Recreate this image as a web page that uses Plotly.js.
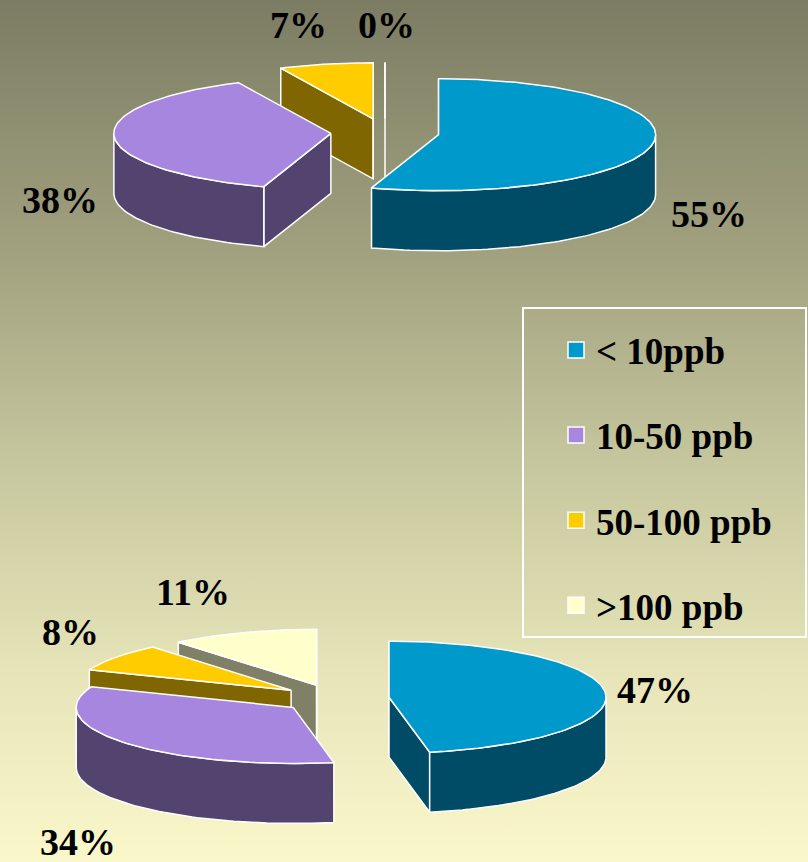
<!DOCTYPE html>
<html>
<head>
<meta charset="utf-8">
<script src="https://cdn.plot.ly/plotly-3.0.1.min.js"></script>
<style>
  html, body { margin: 0; padding: 0; overflow: hidden; }
  body { width: 808px; height: 862px;
         background: linear-gradient(to bottom, #7c7c64 0%, #a2a280 30%, #c8c8a0 55%, #e6e4b8 78%, #faf8cb 100%); }
  #chart { width: 808px; height: 862px; }
</style>
</head>
<body>
<div id="chart"></div>
<script>
// ---- data ----
const categories   = ['< 10ppb', '10-50 ppb', '50-100 ppb', '>100 ppb'];
const topValues    = [55, 38, 7, 0];
const bottomValues = [47, 34, 8, 11];

// ---- styles ----
const topColors  = ['#0099cc', '#a686de', '#ffcc00', '#ffffcc'];
const sideColors = ['#004c66', '#53436f', '#806600', '#808066'];

// ---- geometry of the two 3-D pies (pixel-like axis units) ----
const pies = [
  { values: topValues,    cx: 385, cy: 132.5, rx: 217, ry: 56, depth: 60, pull: 0.25,
    labelPos: [[709, 214], [60, 200], [298, 25], [386, 25]] },
  { values: bottomValues, cx: 335, cy: 698.5, rx: 217, ry: 56, depth: 60, pull: 0.25,
    labelPos: [[655, 690], [78, 842], [70, 632], [193, 592]] }
];

const rad = d => d * Math.PI / 180;
const traces = [];
const annotations = [];

function poly(xs, ys, color) {
  traces.push({
    type: 'scatter', mode: 'lines', x: xs, y: ys, fill: 'toself',
    fillcolor: color, line: { color: '#ffffff', width: 1.5 },
    hoverinfo: 'skip', showlegend: false
  });
}

pies.forEach(pie => {
  const total = pie.values.reduce((a, b) => a + b, 0);
  let acc = 0;
  const slices = pie.values.map((v, i) => {
    const a0 = acc / total * 360;
    acc += v;
    const a1 = acc / total * 360;
    const m = (a0 + a1) / 2;
    const sx = pie.cx + pie.pull * pie.rx * Math.sin(rad(m));
    const sy = pie.cy - pie.pull * pie.ry * Math.cos(rad(m));
    return { i, v, a0, a1, sx, sy };
  });
  const P = (s, a) => [s.sx + pie.rx * Math.sin(rad(a)), s.sy - pie.ry * Math.cos(rad(a))];
  const arc = (s, b0, b1) => {
    const pts = [];
    const n = Math.max(1, Math.ceil((b1 - b0) / 1.5));
    for (let k = 0; k <= n; k++) pts.push(P(s, b0 + (b1 - b0) * k / n));
    return pts;
  };
  const D = pie.depth;
  // painter's order: back slices first
  slices.slice().sort((p, q) => p.sy - q.sy).forEach(s => {
    const side = sideColors[s.i], top = topColors[s.i];
    const radial = a => {
      const p = P(s, a);
      poly([s.sx, p[0], p[0], s.sx, s.sx], [s.sy, p[1], p[1] + D, s.sy + D, s.sy], side);
    };
    if (Math.sin(rad(s.a0)) < 1e-6) radial(s.a0);
    if (Math.sin(rad(s.a1)) > -1e-6 && s.a1 > s.a0) radial(s.a1);
    const b0 = Math.max(s.a0, 90), b1 = Math.min(s.a1, 270);
    if (b1 > b0) {
      const up = arc(s, b0, b1);
      const xs = up.map(p => p[0]).concat(up.slice().reverse().map(p => p[0]));
      const ys = up.map(p => p[1]).concat(up.slice().reverse().map(p => p[1] + D));
      xs.push(xs[0]); ys.push(ys[0]);
      poly(xs, ys, side);
    }
    const t = arc(s, s.a0, s.a1);
    poly([s.sx].concat(t.map(p => p[0]), [s.sx]), [s.sy].concat(t.map(p => p[1]), [s.sy]), top);
  });
  pie.values.forEach((v, i) => {
    annotations.push({
      x: pie.labelPos[i][0], y: pie.labelPos[i][1], xref: 'x', yref: 'y',
      text: Math.round(v / total * 100) + '%', showarrow: false,
      font: { family: 'Liberation Serif, Times New Roman, serif', size: 38, color: '#000000', weight: 'bold' }
    });
  });
});

// legend entries (trailing no-break spaces widen the legend box toward the right edge)
const pad = '\u00a0'.repeat(3);
categories.forEach((c, i) => {
  traces.push({
    type: 'scatter', mode: 'markers', x: [null], y: [null], name: c + pad,
    legendgroup: 'g' + i, showlegend: true,
    marker: { symbol: 'square', size: 20, color: topColors[i], line: { color: '#ffffff', width: 1.5 } }
  });
});

const layout = {
  width: 808, height: 862,
  margin: { l: 0, r: 0, t: 0, b: 0, pad: 0, autoexpand: false },
  paper_bgcolor: 'rgba(0,0,0,0)', plot_bgcolor: 'rgba(0,0,0,0)',
  xaxis: { range: [0, 808], visible: false, fixedrange: true },
  yaxis: { range: [862, 0], visible: false, fixedrange: true },
  showlegend: true,
  legend: {
    x: 522 / 808, y: 1 - 307 / 862, xanchor: 'left', yanchor: 'top',
    bgcolor: 'rgba(0,0,0,0)', bordercolor: '#ffffff', borderwidth: 2,
    font: { family: 'Liberation Serif, Times New Roman, serif', size: 37, color: '#000000', weight: 'bold' },
    title: { text: ' ', font: { size: 8 } },
    tracegroupgap: 34, indentation: 32, itemsizing: 'trace'
  },
  annotations: annotations
};

Plotly.newPlot('chart', traces, layout, { displayModeBar: false, staticPlot: true });
</script>
</body>
</html>
